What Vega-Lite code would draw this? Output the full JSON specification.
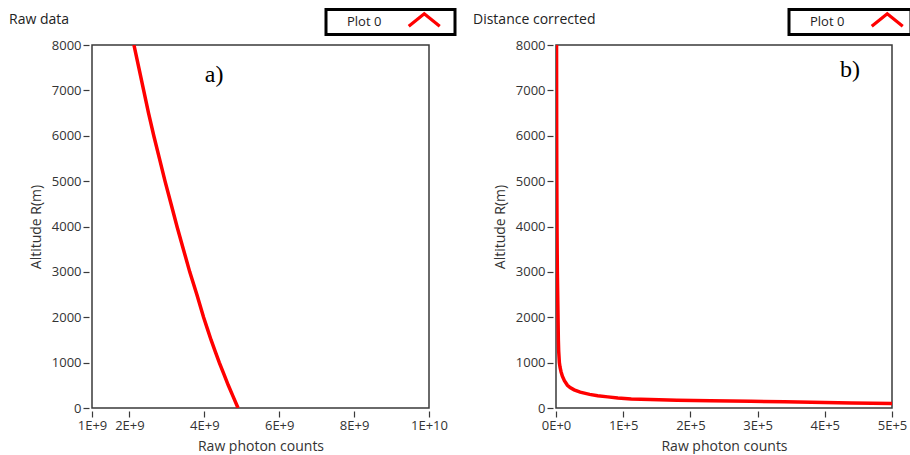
{
  "$schema": "https://vega.github.io/schema/vega-lite/v6.json",
  "background": "white",
  "padding": {"left": 8, "top": 7, "right": 0, "bottom": 0},
  "autosize": {"type": "pad"},
  "bounds": "flush",
  "spacing": 127,
  "config": {
    "font": "Open Sans",
    "view": {"stroke": "#3a3a3a", "strokeWidth": 1.5},
    "axis": {
      "domain": false, "grid": false, "ticks": true, "tickColor": "#3a3a3a", "tickSize": 6, "tickWidth": 1.2, "offset": 3,
      "labelFont": "Open Sans", "labelFontSize": 13, "labelColor": "#333", "labelPadding": 2, "labelFlush": false, "labelOverlap": false,
      "titleFont": "Open Sans", "titleFontSize": 14, "titleFontWeight": "normal", "titleColor": "#333"
    },
    "axisX": {"titlePadding": 7},
    "axisY": {"titlePadding": 8},
    "title": {"font": "Open Sans", "fontSize": 14, "fontWeight": "normal", "color": "#222", "anchor": "start", "frame": "group", "baseline": "alphabetic", "offset": 19, "dx": -83, "dy": 38}
  },
  "resolve": {"scale": {"x": "independent", "y": "independent", "color": "independent"}, "legend": {"color": "independent"}, "axis": {"x": "independent", "y": "independent"}},
  "hconcat": [
    {
      "width": 337, "height": 363,
      "title": {"text": "Raw data"},
      "layer": [
        {
          "data": {"values": [
            {"alt": 0, "counts": 4.90e9}, {"alt": 250, "counts": 4.77e9}, {"alt": 500, "counts": 4.64e9}, {"alt": 750, "counts": 4.52e9},
            {"alt": 1000, "counts": 4.40e9}, {"alt": 1250, "counts": 4.29e9}, {"alt": 1500, "counts": 4.18e9}, {"alt": 1750, "counts": 4.08e9},
            {"alt": 2000, "counts": 3.98e9}, {"alt": 2500, "counts": 3.80e9}, {"alt": 3000, "counts": 3.61e9}, {"alt": 3500, "counts": 3.44e9},
            {"alt": 4000, "counts": 3.27e9}, {"alt": 4500, "counts": 3.11e9}, {"alt": 5000, "counts": 2.95e9}, {"alt": 5500, "counts": 2.80e9},
            {"alt": 6000, "counts": 2.65e9}, {"alt": 6500, "counts": 2.51e9}, {"alt": 7000, "counts": 2.38e9}, {"alt": 7500, "counts": 2.25e9},
            {"alt": 8000, "counts": 2.12e9}
          ]},
          "mark": {"type": "line", "strokeWidth": 3.5, "clip": true},
          "encoding": {
            "x": {"field": "counts", "type": "quantitative", "scale": {"domain": [1e9, 1e10], "nice": false, "zero": false},
                  "axis": {"title": "Raw photon counts", "values": [1e9, 2e9, 4e9, 6e9, 8e9, 1e10], "labelExpr": "replace(format(datum.value, '.0e'), 'e', 'E')"}},
            "y": {"field": "alt", "type": "quantitative", "scale": {"domain": [0, 8000], "nice": false},
                  "axis": {"title": "Altitude R(m)", "values": [0, 1000, 2000, 3000, 4000, 5000, 6000, 7000, 8000], "format": "d"}},
            "order": {"field": "alt"},
            "color": {"datum": "Plot 0", "scale": {"range": ["#ff0000"]},
                      "legend": {"orient": "none", "legendX": 234, "legendY": -35.5, "title": "\u2800\u2800Plot 0", "titleOrient": "left",
                                 "titleFontSize": 13, "titleFontWeight": "normal", "titleColor": "#222", "titlePadding": 32.75, "titleBaseline": "middle",
                                 "symbolType": "M-2,0.8L0,-0.8L2,0.8", "symbolSize": 240, "symbolStrokeWidth": 3.2, "symbolStrokeColor": "#ff0000", "symbolFillColor": "transparent",
                                 "labelExpr": "'\u2800'", "labelOffset": 10, "labelFontSize": 13,
                                 "padding": 1, "strokeColor": "#000", "fillColor": "white", "cornerRadius": 0,
                                 "encode": {"legend": {"update": {"strokeWidth": {"value": 3}}}}}}
          }
        },
        {
          "data": {"values": [{}]},
          "mark": {"type": "text", "font": "Liberation Serif", "fontSize": 24, "color": "#000", "align": "center", "baseline": "middle"},
          "encoding": {"x": {"datum": 4.26e9, "type": "quantitative"}, "y": {"datum": 7340, "type": "quantitative"}, "text": {"value": "a)"}}
        }
      ]
    },
    {
      "width": 336, "height": 363,
      "title": {"text": "Distance corrected"},
      "layer": [
        {
          "data": {"values": [
            {"alt": 85, "counts": 600000}, {"alt": 98, "counts": 500000}, {"alt": 110, "counts": 440000}, {"alt": 120, "counts": 400000},
            {"alt": 135, "counts": 340000}, {"alt": 150, "counts": 290000}, {"alt": 160, "counts": 230000}, {"alt": 170, "counts": 180000},
            {"alt": 185, "counts": 140000}, {"alt": 200, "counts": 112000}, {"alt": 220, "counts": 92000}, {"alt": 245, "counts": 77000},
            {"alt": 270, "counts": 62000}, {"alt": 300, "counts": 50000}, {"alt": 350, "counts": 36000}, {"alt": 400, "counts": 27000},
            {"alt": 450, "counts": 21000}, {"alt": 500, "counts": 17000}, {"alt": 600, "counts": 12500}, {"alt": 700, "counts": 9500},
            {"alt": 800, "counts": 7500}, {"alt": 900, "counts": 6000}, {"alt": 1000, "counts": 5000}, {"alt": 1250, "counts": 4000},
            {"alt": 1500, "counts": 3500}, {"alt": 2000, "counts": 3000}, {"alt": 3000, "counts": 2000}, {"alt": 4000, "counts": 1500},
            {"alt": 5000, "counts": 1200}, {"alt": 6000, "counts": 1000}, {"alt": 7000, "counts": 900}, {"alt": 8000, "counts": 800}
          ]},
          "mark": {"type": "line", "strokeWidth": 3.5, "clip": true},
          "encoding": {
            "x": {"field": "counts", "type": "quantitative", "scale": {"domain": [0, 500000], "nice": false},
                  "axis": {"title": "Raw photon counts", "values": [0, 100000, 200000, 300000, 400000, 500000], "labelExpr": "replace(format(datum.value, '.0e'), 'e', 'E')"}},
            "y": {"field": "alt", "type": "quantitative", "scale": {"domain": [0, 8000], "nice": false},
                  "axis": {"title": "Altitude R(m)", "values": [0, 1000, 2000, 3000, 4000, 5000, 6000, 7000, 8000], "format": "d"}},
            "order": {"field": "alt"},
            "color": {"datum": "Plot 0", "scale": {"range": ["#ff0000"]},
                      "legend": {"orient": "none", "legendX": 233, "legendY": -35.5, "title": "\u2800\u2800Plot 0", "titleOrient": "left",
                                 "titleFontSize": 13, "titleFontWeight": "normal", "titleColor": "#222", "titlePadding": 32.75, "titleBaseline": "middle",
                                 "symbolType": "M-2,0.8L0,-0.8L2,0.8", "symbolSize": 240, "symbolStrokeWidth": 3.2, "symbolStrokeColor": "#ff0000", "symbolFillColor": "transparent",
                                 "labelExpr": "''", "labelOffset": 8, "labelFontSize": 13,
                                 "padding": 1, "strokeColor": "#000", "fillColor": "white", "cornerRadius": 0,
                                 "encode": {"legend": {"update": {"strokeWidth": {"value": 3}}}}}}
          }
        },
        {
          "data": {"values": [{}]},
          "mark": {"type": "text", "font": "Liberation Serif", "fontSize": 24, "color": "#000", "align": "center", "baseline": "middle"},
          "encoding": {"x": {"datum": 437500, "type": "quantitative"}, "y": {"datum": 7450, "type": "quantitative"}, "text": {"value": "b)"}}
        }
      ]
    }
  ]
}
